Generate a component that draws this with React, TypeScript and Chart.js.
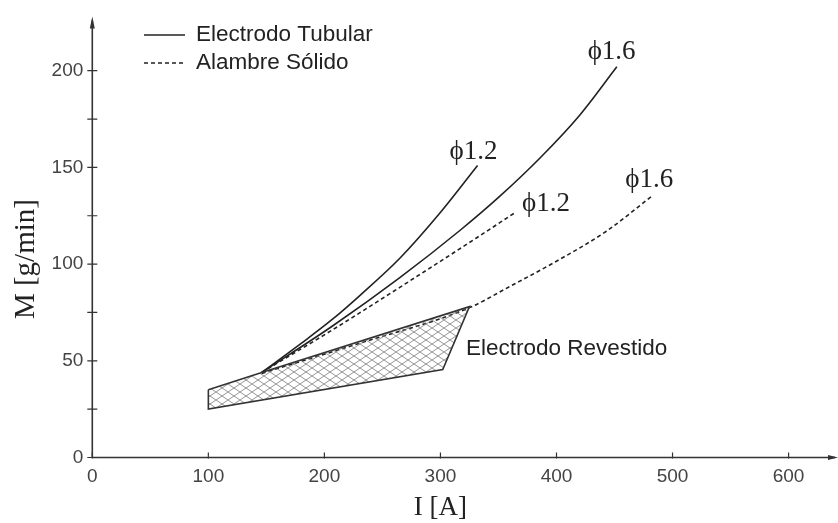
import React, { useEffect, useRef } from 'react';
import { Chart, registerables } from 'chart.js';

Chart.register(...registerables);

// ---- data ----
const xTicks = [0, 100, 200, 300, 400, 500, 600];
const yTicks = [0, 25, 50, 75, 100, 125, 150, 175, 200];
const yLabeled = [0, 50, 100, 150, 200];

const tubular12I = [146, 180, 207, 231, 265, 299, 332];
const tubular12M = [44, 59, 71.5, 84, 103, 126, 151];
const tubular16I = [146, 207, 265, 317, 351, 386, 420, 452];
const tubular16M = [44, 68, 93, 117.5, 135, 155, 177, 202];
const solido12I = [146, 207, 265, 331, 364];
const solido12M = [44, 66, 88, 113.5, 126.5];
const solido16I = [146, 230, 325, 360, 400, 443, 483];
const solido16M = [43.5, 59, 77.5, 88.5, 101.5, 117, 135.5];
const revestidoI = [100, 146, 325, 302, 100, 100];
const revestidoM = [35, 44, 78, 45.5, 25, 35];

const legendLabels = ['Electrodo Tubular', 'Alambre Sólido'];
const curveLabels = ['\u03d51.2', '\u03d51.6', '\u03d51.2', '\u03d51.6'];
const curveLabelI = [328.5, 447.5, 391, 480];
const curveLabelM = [158, 209.6, 131.3, 143.5];
const regionLabel = 'Electrodo Revestido';
const regionLabelI = 322;
const regionLabelM = 56;
const xTitle = 'I [A]';
const yTitle = 'M [g/min]';

const pts = (xs: number[], ys: number[]) => xs.map((x, i) => ({ x, y: ys[i] }));

const INK = '#222';
const AXIS = '#333';
const TICK_TEXT = '#444';

const decor = {
  id: 'decor',
  afterDatasetsDraw(chart: any) {
    const { ctx, chartArea } = chart;
    const x = chart.scales.x;
    const y = chart.scales.y;
    const x0 = x.getPixelForValue(0);
    const y0 = y.getPixelForValue(0);
    ctx.save();
    // axes
    ctx.strokeStyle = AXIS;
    ctx.fillStyle = AXIS;
    ctx.lineWidth = 1.6;
    ctx.beginPath();
    ctx.moveTo(x0, y0);
    ctx.lineTo(chartArea.right, y0);
    ctx.moveTo(x0, y0);
    ctx.lineTo(x0, chartArea.top);
    ctx.stroke();
    // arrows
    ctx.beginPath();
    ctx.moveTo(chartArea.right + 3, y0);
    ctx.lineTo(chartArea.right - 7, y0 - 2.5);
    ctx.lineTo(chartArea.right - 7, y0 + 2.5);
    ctx.closePath();
    ctx.fill();
    ctx.beginPath();
    ctx.moveTo(x0, chartArea.top - 4);
    ctx.lineTo(x0 - 2.5, chartArea.top + 8);
    ctx.lineTo(x0 + 2.5, chartArea.top + 8);
    ctx.closePath();
    ctx.fill();
    // tick marks
    ctx.lineWidth = 1.2;
    ctx.beginPath();
    xTicks.forEach((v) => {
      const px = x.getPixelForValue(v);
      ctx.moveTo(px, y0 - 5);
      ctx.lineTo(px, y0 + 1);
    });
    yTicks.forEach((v) => {
      const py = y.getPixelForValue(v);
      ctx.moveTo(x0 - 5, py);
      ctx.lineTo(x0 + 5, py);
    });
    ctx.stroke();

    // legend
    ctx.strokeStyle = INK;
    ctx.lineWidth = 1.6;
    ctx.font = '22.5px "Liberation Sans", Arial, sans-serif';
    ctx.fillStyle = INK;
    ctx.textBaseline = 'middle';
    ctx.textAlign = 'left';
    const legY = [35, 63];
    legendLabels.forEach((lab, i) => {
      ctx.setLineDash(i === 0 ? [] : [4, 3]);
      ctx.beginPath();
      ctx.moveTo(144, legY[i]);
      ctx.lineTo(185, legY[i]);
      ctx.stroke();
      ctx.fillText(lab, 196, legY[i]);
    });
    ctx.setLineDash([]);

    // curve labels
    ctx.font = '27px "Liberation Serif", "Times New Roman", serif';
    ctx.textAlign = 'center';
    curveLabels.forEach((lab, i) => {
      ctx.fillText(lab, x.getPixelForValue(curveLabelI[i]), y.getPixelForValue(curveLabelM[i]));
    });
    ctx.font = '22.5px "Liberation Sans", Arial, sans-serif';
    ctx.textAlign = 'left';
    ctx.fillText(regionLabel, x.getPixelForValue(regionLabelI), y.getPixelForValue(regionLabelM));

    // axis titles
    ctx.font = '27px "Liberation Serif", "Times New Roman", serif';
    ctx.textAlign = 'center';
    ctx.fillText(xTitle, x.getPixelForValue(300), 508);
    ctx.font = '29px "Liberation Serif", "Times New Roman", serif';
    ctx.translate(26, y.getPixelForValue(100) - 5);
    ctx.rotate(-Math.PI / 2);
    ctx.fillText(yTitle, 0, 0);
    ctx.restore();
  },
};

export default function App() {
  const ref = useRef<HTMLCanvasElement>(null);
  useEffect(() => {
    const canvas = ref.current!;
    const c2 = canvas.getContext('2d')!;
    const pc = document.createElement('canvas');
    pc.width = 12;
    pc.height = 8;
    const p = pc.getContext('2d')!;
    p.strokeStyle = '#7a7a7a';
    p.lineWidth = 0.8;
    p.beginPath();
    p.moveTo(0, 0);
    p.lineTo(12, 8);
    p.moveTo(12, 0);
    p.lineTo(0, 8);
    p.stroke();
    const pattern = c2.createPattern(pc, 'repeat');

    const line = (xs: number[], ys: number[], dashed: boolean) => ({
      data: pts(xs, ys),
      showLine: true,
      borderColor: INK,
      borderWidth: 1.6,
      borderDash: dashed ? [4, 3] : [],
      pointRadius: 0,
      fill: false,
      cubicInterpolationMode: 'monotone',
    });

    const chart = new Chart(canvas, {
      type: 'scatter',
      data: {
        datasets: [
          {
            label: regionLabel,
            data: pts(revestidoI, revestidoM),
            showLine: true,
            fill: 'shape',
            backgroundColor: pattern,
            borderColor: AXIS,
            borderWidth: 1.6,
            pointRadius: 0,
            tension: 0,
          } as any,
          line(tubular12I, tubular12M, false),
          line(tubular16I, tubular16M, false),
          line(solido12I, solido12M, true),
          line(solido16I, solido16M, true),
        ],
      },
      options: {
        responsive: false,
        animation: false,
        layout: { padding: { left: 0, right: 3, top: 12, bottom: 0 } },
        plugins: { legend: { display: false }, tooltip: { enabled: false } },
        scales: {
          x: {
            type: 'linear',
            min: 0,
            max: 640,
            afterBuildTicks: (s: any) => {
              s.ticks = xTicks.map((v) => ({ value: v }));
            },
            afterFit: (s: any) => {
              s.height = 65.5;
            },
            grid: { display: false, drawTicks: false },
            border: { display: false },
            ticks: {
              padding: 8,
              color: TICK_TEXT,
              font: { family: '"Liberation Sans", Arial, sans-serif', size: 19 },
              maxRotation: 0,
            },
          },
          y: {
            type: 'linear',
            min: 0,
            max: 226,
            afterBuildTicks: (s: any) => {
              s.ticks = yTicks.map((v) => ({ value: v }));
            },
            afterFit: (s: any) => {
              s.width = 92.3;
            },
            grid: { display: false, drawTicks: false },
            border: { display: false },
            ticks: {
              padding: 9,
              color: TICK_TEXT,
              font: { family: '"Liberation Sans", Arial, sans-serif', size: 19 },
              callback: (v: any) => (yLabeled.includes(Number(v)) ? String(v) : ''),
            },
          },
        },
      } as any,
      plugins: [decor],
    });
    return () => chart.destroy();
  }, []);
  return (
    <div style={{ position: 'fixed', left: 0, top: 0, width: 838, height: 523, background: '#fff' }}>
      <canvas ref={ref} width={838} height={523} style={{ display: 'block' }} />
    </div>
  );
}
